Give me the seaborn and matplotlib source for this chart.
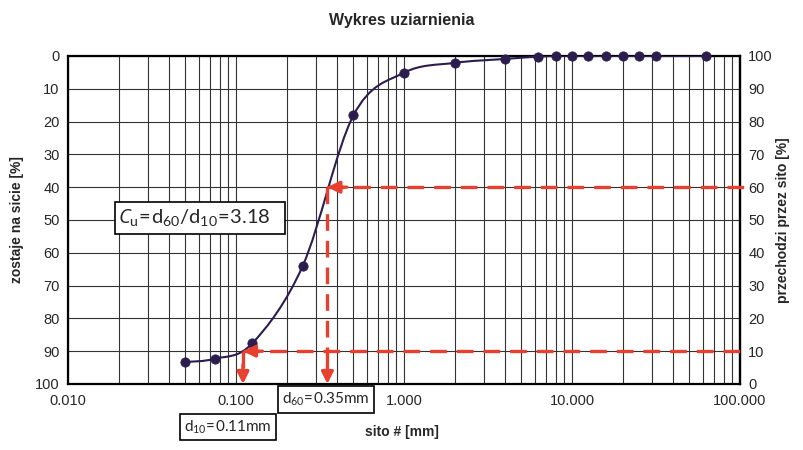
import matplotlib
matplotlib.use("Agg")
import matplotlib.pyplot as plt
from matplotlib.path import Path
from matplotlib.patches import PathPatch, Rectangle
from matplotlib.ticker import FixedLocator, LogLocator, NullFormatter
import seaborn as sns
import numpy as np
import pandas as pd

# sieve sizes [mm] and mass retained [%]
sieve_mm = [0.05, 0.075, 0.125, 0.25, 0.5, 1.0, 2.0, 4.0, 6.3, 8.0,
            10.0, 12.5, 16.0, 20.0, 25.0, 31.5, 63.0]
retained = [93.3, 92.3, 87.6, 63.9, 18.1, 5.1, 2.1, 0.9, 0.2, 0.0,
            0.0, 0.0, 0.0, 0.0, 0.0, 0.0, 0.0]
d10 = 0.11
d60 = 0.35
cu = 3.18
x_ticks = [0.01, 0.1, 1, 10, 100]
x_tick_labels = ["0.010", "0.100", "1.000", "10.000", "100.000"]

sns.set_style("white")
plt.rcParams["font.family"] = ["Liberation Sans", "DejaVu Sans"]
plt.rcParams["mathtext.fontset"] = "custom"
plt.rcParams["mathtext.rm"] = "Lato"
plt.rcParams["mathtext.it"] = "Open Sans:italic"

df = pd.DataFrame({"sito": sieve_mm, "zostaje": retained})

line_col = "#2b1d4e"
red = "#e8402e"

fig = plt.figure(figsize=(8.04, 4.5), dpi=100)
ax = fig.add_axes([0.0846, 0.1467, 0.8358, 0.7289])
ax.set_xscale("log")
ax.set_xlim(0.01, 100)
ax.set_ylim(100, 0)

# smoothed curve (Catmull-Rom bezier in log-x space, like Excel smoothing)
lx = np.log10(df["sito"].values)
yy = df["zostaje"].values
pts = np.column_stack([lx, yy])
ext = np.vstack([pts[0], pts, pts[-1]])
verts = [pts[0]]
codes = [Path.MOVETO]
for i in range(len(pts) - 1):
    p0, p1, p2, p3 = ext[i], ext[i + 1], ext[i + 2], ext[i + 3]
    c1 = p1 + (p2 - p0) / 6
    c2 = p2 - (p3 - p1) / 6
    verts += [c1, c2, p2]
    codes += [Path.CURVE4] * 3
verts = np.array(verts)
verts[:, 0] = 10 ** verts[:, 0]
ax.add_patch(PathPatch(Path(verts, codes), fill=False, edgecolor=line_col,
                       lw=1.5, transform=ax.transData, zorder=3))

sns.scatterplot(data=df, x="sito", y="zostaje", ax=ax, color=line_col,
                s=45, edgecolor=line_col, zorder=4, clip_on=False, legend=False)
ax.set_xlabel("")
ax.set_ylabel("")

# grid / ticks
ax.xaxis.set_major_locator(FixedLocator(x_ticks))
ax.xaxis.set_minor_locator(LogLocator(base=10, subs=np.arange(2, 10)))
ax.xaxis.set_minor_formatter(NullFormatter())
ax.set_xticks(x_ticks)
ax.set_xticklabels(x_tick_labels)
ax.set_yticks(np.arange(0, 101, 10))
ax.grid(True, which="both", axis="x", color="#333333", lw=0.8)
ax.grid(True, which="major", axis="y", color="#333333", lw=0.8)
ax.tick_params(axis="x", which="major", length=4, labelsize=10.5, pad=3)
ax.tick_params(axis="x", which="minor", length=0)
ax.tick_params(axis="y", length=0, labelsize=10.5, pad=6)
for s in ax.spines.values():
    s.set_color("black")
    s.set_linewidth(1.6)

# d60 / d10 construction lines
dash = dict(color=red, lw=2.4, dashes=(5, 3), zorder=5)
for dval, yval in [(d60, 40), (d10, 90)]:
    ax.plot([dval, 112], [yval, yval], clip_on=False, **dash)
    ax.plot([dval, dval], [yval, 97], **dash)
    ax.annotate("", xy=(dval, yval), xytext=(14, 0), textcoords="offset points",
                arrowprops=dict(arrowstyle="-|>,head_length=0.7,head_width=0.35",
                                color=red, lw=2.4, shrinkA=0, shrinkB=0), zorder=6)
    ax.annotate("", xy=(dval, 100), xytext=(0, 14), textcoords="offset points",
                arrowprops=dict(arrowstyle="-|>,head_length=0.7,head_width=0.35",
                                color=red, lw=2.4, shrinkA=0, shrinkB=0), zorder=6)

# Cu box
ax.add_patch(Rectangle((0.070, 0.457), 0.253, 0.098, transform=ax.transAxes,
                       facecolor="white", edgecolor="black", lw=1.2, zorder=7))
ax.text(0.075, 0.506,
        r"$\mathit{C}_\mathrm{u}\!=\!\mathrm{d}_{60}/\mathrm{d}_{10}\!=\!%.2f$" % cu,
        transform=ax.transAxes, fontsize=14.5, va="center", ha="left", zorder=8)

box = dict(boxstyle="square,pad=0.3", facecolor="white", edgecolor="black", lw=1.2)
ax.text(0.384, -0.047, r"$\mathrm{d}_{60}\!=\!\mathrm{%.2fmm}$" % d60,
        transform=ax.transAxes, fontsize=11, ha="center", va="center", bbox=box)
ax.text(0.238, -0.131, r"$\mathrm{d}_{10}\!=\!\mathrm{%.2fmm}$" % d10,
        transform=ax.transAxes, fontsize=11, ha="center", va="center", bbox=box)

# right axis
sec = ax.secondary_yaxis("right", functions=(lambda v: 100 - v, lambda v: 100 - v))
sec.set_yticks(np.arange(0, 101, 10))
sec.tick_params(length=0, labelsize=10.5, pad=6)
sec.spines["right"].set_linewidth(1.6)
sec.set_ylabel("przechodzi przez sito [%]", fontsize=10, fontweight="bold", labelpad=2)

fig.text(0.5, 0.04, "sito # [mm]", fontsize=10, fontweight="bold",
         ha="center", va="center")
ax.set_ylabel("zostaje na sicie [%]", fontsize=10, fontweight="bold", labelpad=8)
fig.suptitle("Wykres uziarnienia", x=0.5, y=0.97, fontsize=11.5, fontweight="bold")

fig.savefig("out.png", dpi=100)
